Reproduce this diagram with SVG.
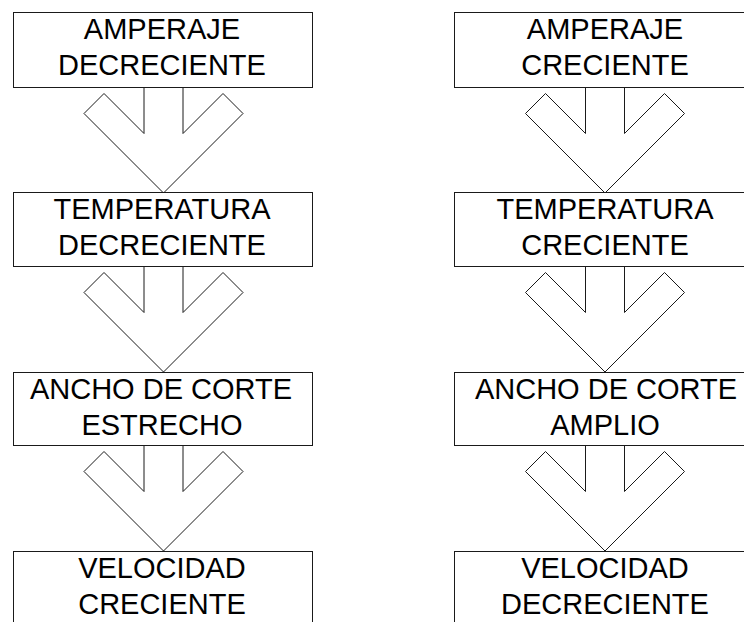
<svg xmlns="http://www.w3.org/2000/svg" xmlns:xlink="http://www.w3.org/1999/xlink" width="744" height="622" viewBox="0 0 744 622">
<style>
.box{fill:#fff;stroke:#1a1a1a;stroke-width:1}
.arr{fill:none;stroke:#1a1a1a;stroke-width:1;stroke-linejoin:miter}
.t{font-family:"Liberation Sans",Arial,sans-serif;font-size:29px;fill:#000;text-anchor:middle}
</style>
<defs>
<path id="arrow" d="M-19.5,0 L-19.5,46 L-59.5,6 L-79.5,26 L0,105.5 L79.5,26 L59.5,6 L19.5,46 L19.5,0"/>
</defs>
<rect width="744" height="622" fill="#fff"/>
<g id="connectors" class="arr">
<use xlink:href="#arrow" href="#arrow" transform="translate(163.5,87.5)"/>
<use xlink:href="#arrow" href="#arrow" transform="translate(163.5,266.5)"/>
<use xlink:href="#arrow" href="#arrow" transform="translate(163.5,445.5)"/>
<use xlink:href="#arrow" href="#arrow" transform="translate(605,87.5)"/>
<use xlink:href="#arrow" href="#arrow" transform="translate(605,266.5)"/>
<use xlink:href="#arrow" href="#arrow" transform="translate(605,445.5)"/>
</g>
<g id="n-amperaje-dec">
<rect class="box" x="13.5" y="12.5" width="299" height="75"/>
<text class="t" x="162" y="39">AMPERAJE</text>
<text class="t" x="162" y="74.5">DECRECIENTE</text>
</g>
<g id="n-temperatura-dec">
<rect class="box" x="13.5" y="192.5" width="299" height="74"/>
<text class="t" x="162" y="219">TEMPERATURA</text>
<text class="t" x="162" y="254.5">DECRECIENTE</text>
</g>
<g id="n-ancho-estrecho">
<rect class="box" x="13.5" y="372.5" width="299" height="73"/>
<text class="t" x="161" y="398.5">ANCHO DE CORTE</text>
<text class="t" x="162" y="434.5">ESTRECHO</text>
</g>
<g id="n-velocidad-crec">
<rect class="box" x="13.5" y="551.5" width="299" height="90"/>
<text class="t" x="162" y="578">VELOCIDAD</text>
<text class="t" x="162" y="613.5">CRECIENTE</text>
</g>
<g id="n-amperaje-crec">
<rect class="box" x="454.5" y="12.5" width="301" height="75"/>
<text class="t" x="605" y="39">AMPERAJE</text>
<text class="t" x="605" y="74.5">CRECIENTE</text>
</g>
<g id="n-temperatura-crec">
<rect class="box" x="454.5" y="192.5" width="301" height="74"/>
<text class="t" x="605" y="219">TEMPERATURA</text>
<text class="t" x="605" y="254.5">CRECIENTE</text>
</g>
<g id="n-ancho-amplio">
<rect class="box" x="454.5" y="372.5" width="301" height="73"/>
<text class="t" x="606" y="398.5">ANCHO DE CORTE</text>
<text class="t" x="605" y="434.5">AMPLIO</text>
</g>
<g id="n-velocidad-dec">
<rect class="box" x="454.5" y="551.5" width="301" height="90"/>
<text class="t" x="605" y="578">VELOCIDAD</text>
<text class="t" x="605" y="613.5">DECRECIENTE</text>
</g>
</svg>
